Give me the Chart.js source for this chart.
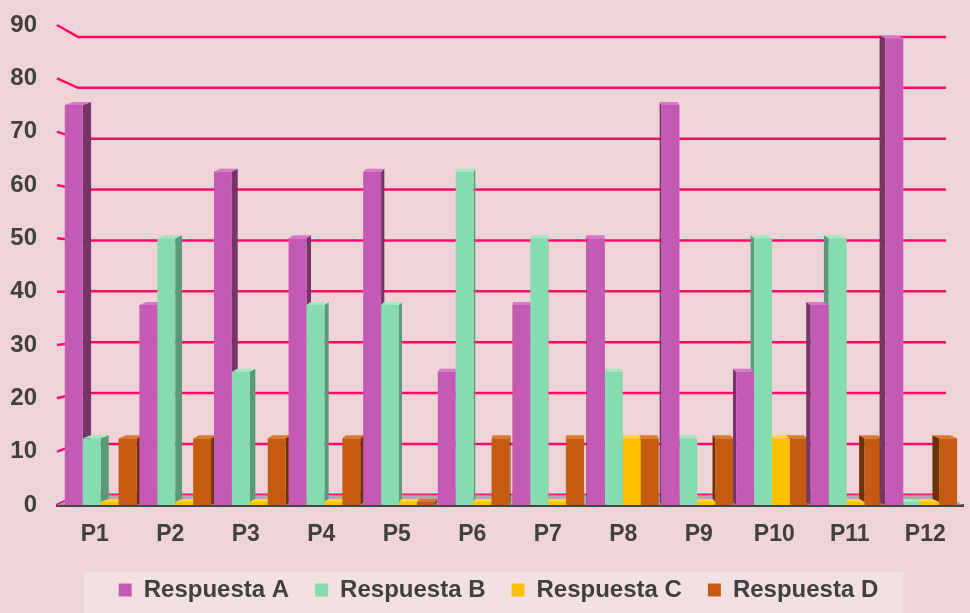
<!DOCTYPE html>
<html>
<head>
<meta charset="utf-8">
<script src="https://cdn.jsdelivr.net/npm/chart.js@4.4.1/dist/chart.umd.min.js"></script>
<style>
  html, body { margin: 0; padding: 0; background: #efd4d7; }
  #wrap { width: 970px; height: 613px; position: relative; }
</style>
</head>
<body>
<div id="wrap"><canvas id="chart" width="970" height="613"></canvas></div>
<script>
// data (percent of answers per question)
const categories = ['P1', 'P2', 'P3', 'P4', 'P5', 'P6', 'P7', 'P8', 'P9', 'P10', 'P11', 'P12'];
const respuestaA = [75, 37.5, 62.5, 50, 62.5, 25, 37.5, 50, 75, 25, 37.5, 87.5];
const respuestaB = [12.5, 50, 25, 37.5, 37.5, 62.5, 50, 25, 12.5, 50, 50, 0];
const respuestaC = [0, 0, 0, 0, 0, 0, 0, 12.5, 0, 12.5, 0, 0];
const respuestaD = [12.5, 12.5, 12.5, 12.5, 0, 12.5, 12.5, 12.5, 12.5, 12.5, 12.5, 12.5];
const seriesNames = ['Respuesta A', 'Respuesta B', 'Respuesta C', 'Respuesta D'];
const yMax = 90;
const yStep = 10;

const textColor = '#404040';
const gridColor = '#ff0a6c';
const frontColors = ['#c45ab3', '#86dcb0', '#ffc000', '#c55a11'];
const sideColors = ['#763469', '#5a9a7a', '#b78a00', '#6e3208'];
const topColors = ['#d678c8', '#a2e8c4', '#ffd24a', '#d9772f'];
const VP_X = 560; // vanishing point for the fake 3d
const FONT = '"Liberation Sans", Arial, sans-serif';

// gridlines on a slightly shrunk back wall, plus the floor
function backY(area, yf) {
    const mid = area.top + (area.bottom - area.top) * 0.54;
    return mid + (yf - mid) * 0.954;
}

const depthPlugin = {
    id: 'depth',
    afterInit(chart) {
        // fixed legend band height
        const fit = chart.legend.fit;
        chart.legend.fit = function () {
            fit.call(this);
            this.height = 61;
        };
    },
    afterLayout(chart) {
        // legend sits a little right of centre in the original
        chart.legend.left += 12;
        chart.legend.right += 12;
    },
    beforeDraw(chart) {
        const boxes = chart.legend.legendHitBoxes;
        if (!boxes || !boxes.length) return;
        const ctx = chart.ctx;
        const l = Math.min(...boxes.map(b => b.left)) - 35;
        const r = Math.max(...boxes.map(b => b.left + b.width)) + 25;
        const t = boxes[0].top - 6;
        ctx.save();
        ctx.fillStyle = 'rgba(255,255,255,0.28)';
        ctx.fillRect(l, t, r - l, chart.height - t);
        ctx.restore();
    },
    beforeDatasetsDraw(chart) {
        const { ctx, chartArea: a, scales: { y } } = chart;
        ctx.save();
        ctx.strokeStyle = gridColor;
        ctx.lineWidth = 2.5;
        y.ticks.forEach(t => {
            const yf = y.getPixelForValue(t.value);
            const yb = backY(a, yf);
            ctx.beginPath();
            ctx.moveTo(a.left, yf);
            ctx.lineTo(a.left + 21, yb);
            ctx.lineTo(a.right - 17, yb);
            ctx.stroke();
        });
        const y0 = y.getPixelForValue(0);
        const yb0 = backY(a, y0);
        ctx.fillStyle = 'rgba(165,160,162,0.85)';
        ctx.beginPath();
        ctx.moveTo(a.left, y0);
        ctx.lineTo(a.left + 21, yb0);
        ctx.lineTo(a.right - 17, yb0);
        ctx.lineTo(a.right, y0);
        ctx.closePath();
        ctx.fill();
        ctx.restore();
    },
    afterDatasetsDraw(chart) {
        const ctx = chart.ctx;
        const metas = chart.data.datasets.map((_, d) => chart.getDatasetMeta(d));
        ctx.save();
        categories.forEach((_, i) => {
            const cx = metas[0].data[i].x;
            let order = [0, 1, 2, 3];
            if (cx > VP_X) order = order.reverse();
            order.forEach(d => {
                const el = metas[d].data[i];
                const { x, y, base, width } = el.getProps(['x', 'y', 'base', 'width'], true);
                // slight perspective pull towards the middle
                const px = x + (VP_X - cx) * 0.012;
                const left = px - width / 2;
                const right = px + width / 2;
                const sx = (VP_X - x) * 0.017;
                const dy = 3;
                // side
                const edge = sx > 0 ? right : left;
                ctx.fillStyle = sideColors[d];
                ctx.beginPath();
                ctx.moveTo(edge, y);
                ctx.lineTo(edge + sx, y - dy);
                ctx.lineTo(edge + sx, base - dy);
                ctx.lineTo(edge, base);
                ctx.closePath();
                ctx.fill();
                // top
                ctx.fillStyle = topColors[d];
                ctx.beginPath();
                ctx.moveTo(left, y);
                ctx.lineTo(right, y);
                ctx.lineTo(right + sx, y - dy);
                ctx.lineTo(left + sx, y - dy);
                ctx.closePath();
                ctx.fill();
                // front
                ctx.fillStyle = frontColors[d];
                ctx.fillRect(left, y, width, base - y);
            });
        });
        ctx.restore();
    }
};

const seriesData = [respuestaA, respuestaB, respuestaC, respuestaD];

new Chart(document.getElementById('chart'), {
    type: 'bar',
    data: {
        labels: categories,
        datasets: seriesData.map((vals, d) => ({
            label: seriesNames[d],
            data: vals,
            backgroundColor: 'rgba(0,0,0,0)',
            borderWidth: 0,
            minBarLength: 3,
            barPercentage: 1,
            categoryPercentage: 0.95
        }))
    },
    options: {
        responsive: false,
        animation: false,
        layout: { padding: { top: 25, left: 10, right: 7, bottom: 0 } },
        scales: {
            x: {
                grid: { display: false, drawTicks: false },
                border: { display: true, color: '#454545', width: 3 },
                afterFit(scale) { scale.height = 47; },
                ticks: {
                    color: textColor,
                    padding: 16,
                    font: { family: FONT, size: 23, weight: 'bold' }
                }
            },
            y: {
                min: 0,
                max: yMax,
                grid: { display: false, drawTicks: false },
                border: { display: false },
                afterFit(scale) {
                    scale.width = 47;
                    scale.paddingTop = 0;
                    scale.paddingBottom = 0;
                },
                ticks: {
                    stepSize: yStep,
                    color: textColor,
                    padding: 20,
                    font: { family: FONT, size: 24, weight: 'bold' }
                }
            }
        },
        plugins: {
            tooltip: { enabled: false },
            legend: {
                position: 'bottom',
                labels: {
                    color: textColor,
                    boxWidth: 13,
                    boxHeight: 13,
                    padding: 26,
                    font: { family: FONT, size: 24, weight: 'bold' },
                    generateLabels(chart) {
                        return seriesNames.map((name, d) => ({
                            text: name,
                            fillStyle: frontColors[d],
                            strokeStyle: frontColors[d],
                            lineWidth: 0,
                            fontColor: textColor,
                            datasetIndex: d,
                            hidden: false
                        }));
                    }
                }
            }
        }
    },
    plugins: [depthPlugin]
});
</script>
</body>
</html>
